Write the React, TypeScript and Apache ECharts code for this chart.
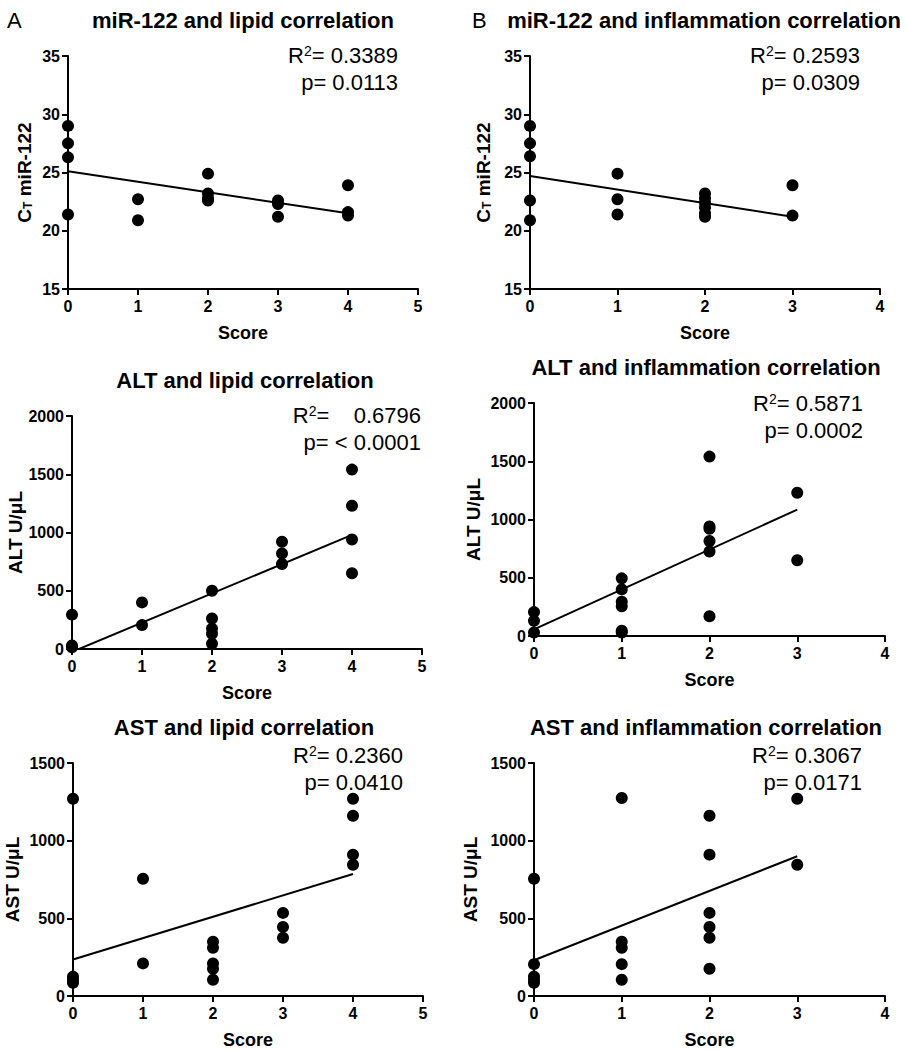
import React, { useEffect, useRef } from 'react';
import * as echarts from 'echarts';

const FONT = '"Liberation Sans", Arial, Helvetica, sans-serif';

// ---- Data ----
const titles = [
  'miR-122 and lipid correlation',
  'miR-122 and inflammation correlation',
  'ALT and lipid correlation',
  'ALT and inflammation correlation',
  'AST and lipid correlation',
  'AST and inflammation correlation',
];

const r2Values = ['0.3389', '0.2593', '   0.6796', '0.5871', '0.2360', '0.3067'];
const pValues = ['0.0113', '0.0309', '< 0.0001', '0.0002', '0.0410', '0.0171'];

const mirLipid: [number, number][] = [
  [0, 29.0], [0, 27.5], [0, 26.3], [0, 21.4],
  [1, 22.7], [1, 20.9],
  [2, 24.9], [2, 23.2], [2, 22.8], [2, 22.6],
  [3, 22.6], [3, 22.3], [3, 21.2],
  [4, 23.9], [4, 21.6], [4, 21.3],
];
const mirLipidFit: [number, number][] = [[0, 25.1], [4, 21.5]];

const mirInfl: [number, number][] = [
  [0, 29.0], [0, 27.5], [0, 26.4], [0, 22.6], [0, 20.9],
  [1, 24.9], [1, 22.7], [1, 21.4],
  [2, 23.2], [2, 22.8], [2, 22.4], [2, 22.0], [2, 21.5], [2, 21.2],
  [3, 23.9], [3, 21.3],
];
const mirInflFit: [number, number][] = [[0, 24.7], [3, 21.2]];

const altLipid: [number, number][] = [
  [0, 295], [0, 30], [0, 15],
  [1, 400], [1, 205],
  [2, 500], [2, 262], [2, 175], [2, 130], [2, 45],
  [3, 920], [3, 820], [3, 730],
  [4, 1540], [4, 1230], [4, 940], [4, 650],
];
const altLipidFit: [number, number][] = [[0, -25], [4, 980]];

const altInfl: [number, number][] = [
  [0, 205], [0, 130], [0, 30],
  [1, 495], [1, 400], [1, 295], [1, 255], [1, 45], [1, 30],
  [2, 1540], [2, 940], [2, 920], [2, 815], [2, 725], [2, 170],
  [3, 1230], [3, 650],
];
const altInflFit: [number, number][] = [[0, 57], [3, 1085]];

const astLipid: [number, number][] = [
  [0, 1270], [0, 125], [0, 105], [0, 85],
  [1, 755], [1, 210],
  [2, 350], [2, 310], [2, 210], [2, 175], [2, 105],
  [3, 535], [3, 445], [3, 375],
  [4, 1270], [4, 1160], [4, 910], [4, 845],
];
const astLipidFit: [number, number][] = [[0, 235], [4, 785]];

const astInfl: [number, number][] = [
  [0, 755], [0, 205], [0, 125], [0, 105], [0, 85],
  [1, 1275], [1, 350], [1, 310], [1, 205], [1, 105],
  [2, 1160], [2, 910], [2, 535], [2, 445], [2, 375], [2, 175],
  [3, 1270], [3, 845],
];
const astInflFit: [number, number][] = [[0, 230], [3, 900]];

// ---- Layout ----
type Panel = {
  grid: { left: number; top: number; width: number; height: number };
  xMax: number;
  yMin: number;
  yMax: number;
  yInterval: number;
  yName: string;
  yNameGap: number;
  points: [number, number][];
  fit: [number, number][];
  title: string;
  titleX: number;
  titleY: number;
  statX: number;
  statY: number;
  r2: string;
  p: string;
};

const panels: Panel[] = [
  { grid: { left: 68, top: 56, width: 350, height: 233 }, xMax: 5, yMin: 15, yMax: 35, yInterval: 5,
    yName: '{n|C}{sub|T}{n| miR-122}', yNameGap: 34, points: mirLipid, fit: mirLipidFit,
    title: titles[0], titleX: 243, titleY: 20, statX: 398, statY: 55, r2: r2Values[0], p: pValues[0] },
  { grid: { left: 530, top: 56, width: 350, height: 233 }, xMax: 4, yMin: 15, yMax: 35, yInterval: 5,
    yName: '{n|C}{sub|T}{n| miR-122}', yNameGap: 37, points: mirInfl, fit: mirInflFit,
    title: titles[1], titleX: 704, titleY: 20, statX: 860, statY: 55, r2: r2Values[1], p: pValues[1] },
  { grid: { left: 72, top: 416, width: 350, height: 233 }, xMax: 5, yMin: 0, yMax: 2000, yInterval: 500,
    yName: 'ALT U/μL', yNameGap: 47, points: altLipid, fit: altLipidFit,
    title: titles[2], titleX: 245, titleY: 380, statX: 421, statY: 415, r2: r2Values[2], p: pValues[2] },
  { grid: { left: 534, top: 403, width: 351, height: 233 }, xMax: 4, yMin: 0, yMax: 2000, yInterval: 500,
    yName: 'ALT U/μL', yNameGap: 51, points: altInfl, fit: altInflFit,
    title: titles[3], titleX: 706, titleY: 367, statX: 863, statY: 403, r2: r2Values[3], p: pValues[3] },
  { grid: { left: 73, top: 763, width: 350, height: 233 }, xMax: 5, yMin: 0, yMax: 1500, yInterval: 500,
    yName: 'AST U/μL', yNameGap: 51, points: astLipid, fit: astLipidFit,
    title: titles[4], titleX: 244, titleY: 727, statX: 403, statY: 755, r2: r2Values[4], p: pValues[4] },
  { grid: { left: 534, top: 763, width: 351, height: 233 }, xMax: 4, yMin: 0, yMax: 1500, yInterval: 500,
    yName: 'AST U/μL', yNameGap: 54, points: astInfl, fit: astInflFit,
    title: titles[5], titleX: 706, titleY: 727, statX: 862, statY: 755, r2: r2Values[5], p: pValues[5] },
];

const axisLineStyle = { color: '#000', width: 2 };
const tickLabel = {
  color: '#000', fontFamily: FONT, fontWeight: 'bold' as const, fontSize: 16,
  formatter: (v: number) => String(v),
};

function buildOption() {
  const grid: any[] = [];
  const xAxis: any[] = [];
  const yAxis: any[] = [];
  const series: any[] = [];
  const graphic: any[] = [];

  panels.forEach((pn, i) => {
    grid.push({ ...pn.grid, containLabel: false, outerBoundsMode: 'none' });
    xAxis.push({
      type: 'value', gridIndex: i, min: 0, max: pn.xMax, interval: 1,
      axisLine: { show: true, onZero: false, lineStyle: axisLineStyle },
      axisTick: { show: true, length: 6, lineStyle: axisLineStyle },
      axisLabel: { ...tickLabel, margin: 9 },
      splitLine: { show: false },
      name: 'Score', nameLocation: 'middle', nameGap: 35,
      nameTextStyle: { color: '#000', fontFamily: FONT, fontWeight: 'bold', fontSize: 18 },
    });
    yAxis.push({
      type: 'value', gridIndex: i, min: pn.yMin, max: pn.yMax, interval: pn.yInterval,
      axisLine: { show: true, onZero: false, lineStyle: axisLineStyle },
      axisTick: { show: true, length: 6, lineStyle: axisLineStyle },
      axisLabel: { ...tickLabel, margin: 8 },
      splitLine: { show: false },
      name: pn.yName, nameLocation: 'middle', nameGap: pn.yNameGap,
      nameTextStyle: {
        color: '#000', fontFamily: FONT, fontWeight: 'bold', fontSize: 19,
        rich: {
          n: { color: '#000', fontFamily: FONT, fontWeight: 'bold', fontSize: 19 },
          sub: { color: '#000', fontFamily: FONT, fontWeight: 'bold', fontSize: 12, verticalAlign: 'bottom' },
        },
      },
    });
    series.push({
      type: 'scatter', xAxisIndex: i, yAxisIndex: i, data: pn.points,
      symbol: 'circle', symbolSize: 12, itemStyle: { color: '#000', opacity: 1 }, clip: false,
    });
    series.push({
      type: 'line', xAxisIndex: i, yAxisIndex: i, data: pn.fit,
      showSymbol: false, symbol: 'none', lineStyle: { color: '#000', width: 2 }, clip: true,
    });

    graphic.push({
      type: 'text', x: pn.titleX, y: pn.titleY,
      style: {
        text: pn.title, fill: '#000', fontFamily: FONT, fontWeight: 'bold', fontSize: 22,
        align: 'center', textAlign: 'center', verticalAlign: 'middle', textVerticalAlign: 'middle',
      },
    });
    graphic.push({
      type: 'text', x: pn.statX, y: pn.statY,
      style: {
        text: '{n|R}{s|2}{n|= ' + pn.r2 + '}',
        fill: '#000', fontFamily: FONT, fontSize: 22,
        align: 'right', textAlign: 'right', verticalAlign: 'middle', textVerticalAlign: 'middle',
        rich: {
          n: { fill: '#000', fontFamily: FONT, fontSize: 22 },
          s: { fill: '#000', fontFamily: FONT, fontSize: 14, verticalAlign: 'top' },
        },
      },
    });
    graphic.push({
      type: 'text', x: pn.statX, y: pn.statY + 27,
      style: {
        text: 'p= ' + pn.p, fill: '#000', fontFamily: FONT, fontSize: 22,
        align: 'right', textAlign: 'right', verticalAlign: 'middle', textVerticalAlign: 'middle',
      },
    });
  });

  graphic.push({
    type: 'text', x: 7, y: 20,
    style: { text: 'A', fill: '#000', fontFamily: FONT, fontSize: 22, align: 'left', textAlign: 'left', verticalAlign: 'middle', textVerticalAlign: 'middle' },
  });
  graphic.push({
    type: 'text', x: 472, y: 20,
    style: { text: 'B', fill: '#000', fontFamily: FONT, fontSize: 22, align: 'left', textAlign: 'left', verticalAlign: 'middle', textVerticalAlign: 'middle' },
  });

  return {
    animation: false,
    backgroundColor: '#fff',
    grid, xAxis, yAxis, series, graphic,
  };
}

export default function App() {
  const ref = useRef<HTMLDivElement>(null);
  useEffect(() => {
    document.body.style.margin = '0';
    if (!ref.current) return;
    const chart = echarts.init(ref.current, undefined, { renderer: 'svg' });
    chart.setOption(buildOption() as any);
    return () => chart.dispose();
  }, []);
  return <div ref={ref} style={{ width: 906, height: 1050 }} />;
}
